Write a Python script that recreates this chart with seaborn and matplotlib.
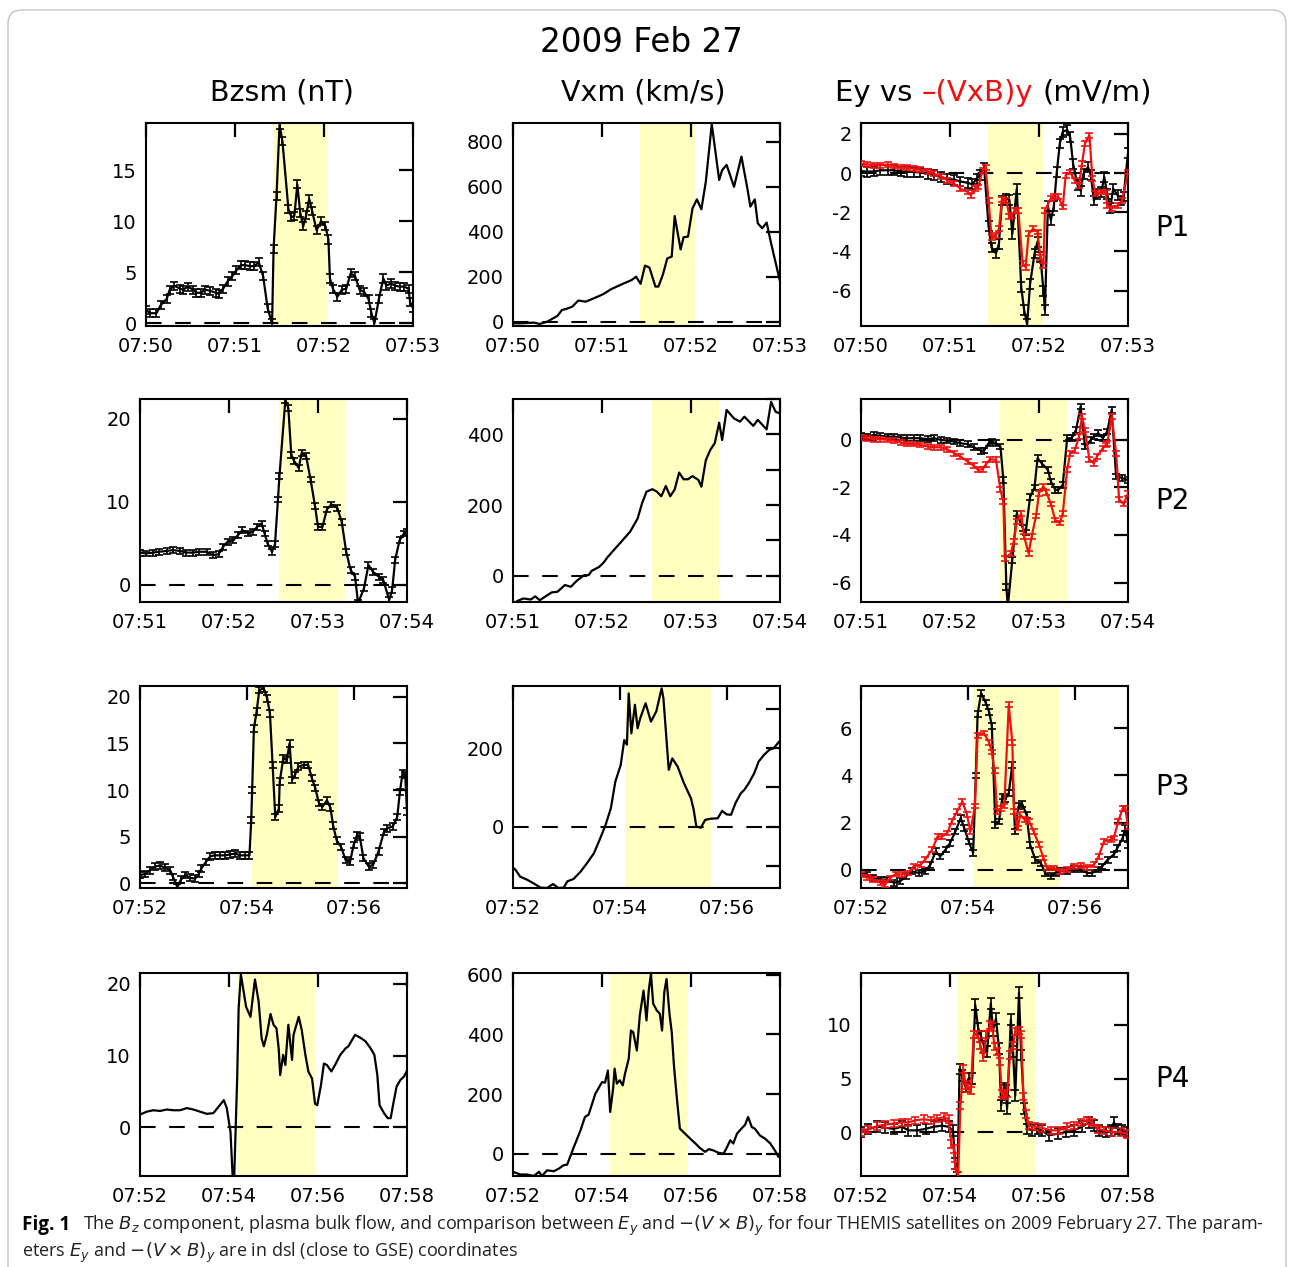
import matplotlib
matplotlib.use("Agg")
import matplotlib.pyplot as plt
import seaborn as sns
from matplotlib.ticker import FixedLocator, MultipleLocator, FuncFormatter
from matplotlib.patches import FancyBboxPatch
from matplotlib.transforms import IdentityTransform

# ---------------- data (time in seconds after panel start, values) ----------------
# P1 (start 07:50)
P1_BZ_T = [0,3,7,10,14,16,19,23,25,28,32,34,37,40,43,47,49,52,55,58,61,64,67,70,73,76,79,82,85,86,
           88,90,92,96,98,100,102,104,106,108,110,112,115,118,121,123,124,126,129,132,135,138,141,144,147,150,152,154,157,160,
           162,165,168,171,174,177,178,180]
P1_BZ = [1.3,1.0,1.0,1.8,2.4,3.3,3.7,3.4,3.3,3.6,3.3,3.0,3.0,3.3,3.2,3.0,2.9,3.4,4.1,4.6,5.2,5.7,5.7,5.6,5.6,6.0,4.6,1.5,0.0,7.3,
         12.5,19.4,17.8,11.2,10.4,10.5,13.6,10.8,9.5,10.6,12.2,11.0,9.1,10.0,9.5,8.2,4.4,3.4,2.6,3.3,3.4,4.9,4.6,3.3,3.1,2.4,1.0,0.0,2.4,4.4,
         3.7,3.9,3.7,3.6,3.6,3.4,2.1,1.5]
P1_VX_T = [0,5,14,18,23,27,30,33,36,40,44,49,52,57,61,66,70,75,80,83,86,89,92,96,98,101,104,107,109,113,
           115,118,121,124,127,130,134,139,141,144,149,154,158,160,163,165,168,171,174,180]
P1_VX = [-6,-6,-3,-9,1,16,27,53,58,68,95,90,98,112,124,145,157,172,186,201,169,250,241,157,157,209,282,290,470,322,
         376,379,504,544,500,623,878,630,674,697,600,734,593,512,544,438,416,441,349,180]
P1_EY_T = [0,4,9,13,18,22,27,31,36,40,45,49,54,58,63,67,72,75,78,80,83,86,88,91,93,95,98,100,102,105,
           108,110,112,114,117,119,121,123,124,126,128,130,132,134,136,139,141,143,146,148,150,153,155,157,159,162,164,166,168,170,
           173,175,177,180]
P1_EY = [0.1,0.07,0.08,0.14,0.14,0.14,0.08,0.07,0.05,0.03,-0.03,-0.12,-0.2,-0.29,-0.34,-0.43,-0.5,-0.58,-0.29,-0.12,
         0.27,-2.7,-3.8,-4.1,-3.6,-1.4,-1.3,-1.36,-3.1,-0.8,-5.8,-7.0,-7.7,-5.65,-4.1,-3.5,-4.3,-6.0,-7.0,-1.7,
         -2.4,-1.7,0.05,1.5,2.1,2.2,1.84,0.48,-0.63,-0.9,-0.03,0.3,-0.12,-1.4,-1.06,-0.97,-0.2,-1.06,-1.8,-0.8,
         -1.14,-1.4,-1.2,1.0]
P1_VB_T = [0,4,9,13,18,22,27,31,36,40,45,49,54,58,63,67,72,74,77,79,82,84,86,88,91,93,95,98,100,102,
           104,106,109,111,113,116,119,121,123,124,128,130,133,136,138,141,144,147,149,151,154,156,158,162,165,166,169,173,176,180]
P1_VB = [0.48,0.44,0.4,0.4,0.43,0.36,0.3,0.27,0.22,0.17,0.09,-0.03,-0.17,-0.37,-0.55,-0.8,-0.97,-1.14,-0.8,-0.72,
         0.14,0.27,-1.4,-3.27,-3.19,-2.84,-1.36,-1.4,-2.2,-2.16,-1.9,-1.9,-4.6,-4.8,-3.1,-2.84,-3.0,-4.3,-4.7,-1.9,
         -1.3,-1.2,-1.2,-1.74,-0.12,0.05,-0.37,-0.63,0.48,1.5,1.93,-0.29,-1.06,-0.97,-0.97,-1.65,-1.8,-1.65,-1.4,0.05]

# P2 (start 07:51)
P2_BZ_T = [0,4,9,13,18,22,27,31,36,40,45,49,53,56,59,63,66,69,73,76,79,82,84,86,89,91,93,94,98,100,
           102,104,107,109,112,115,118,120,123,126,129,133,136,139,142,145,147,151,154,157,161,164,168,170,172,175,178,180]
P2_BZ = [3.9,3.8,3.9,4.0,4.1,4.2,4.1,3.9,3.9,4.0,4.0,3.6,3.7,4.6,5.2,5.4,6.0,6.6,6.2,6.4,7.0,7.4,6.2,5.0,4.0,4.9,10.3,13.1,22.3,21.3,
         15.7,14.9,14.1,15.9,15.5,12.7,9.5,7.0,7.0,9.1,9.7,9.3,7.6,4.0,1.8,1.0,-2.2,-0.4,2.4,1.6,1.0,0.6,-1.8,-0.6,3.0,5.4,6.2,6.4]
P2_VX_T = [0,3,7,12,15,18,22,26,30,35,39,43,48,51,53,58,61,64,68,71,75,79,84,87,90,94,97,100,103,106,
           109,112,115,118,121,125,127,130,133,136,139,141,144,149,153,156,162,165,171,174,177,180]
P2_VX = [-80,-71,-64,-67,-58,-69,-58,-47,-45,-26,-31,-14,2,2,14,25,37,54,73,87,106,125,162,205,238,245,238,225,254,225,
         244,292,273,273,282,271,252,327,356,375,433,384,469,445,436,450,424,441,414,492,464,459]
P2_EY_T = [0,4,9,13,18,22,27,31,36,40,45,49,54,58,63,67,72,76,81,83,86,88,91,94,96,98,99,102,105,109,
           111,114,117,119,122,126,128,131,133,136,139,142,145,148,151,155,157,160,163,166,169,172,176,180]
P2_EY = [0.17,0.14,0.21,0.17,0.14,0.14,0.1,0.07,0.07,0.07,0.03,0.07,0.0,-0.03,-0.07,-0.14,-0.18,-0.31,-0.46,-0.45,
         -0.14,-0.07,-0.14,-0.28,-1.7,-6.2,-7.0,-5.05,-3.1,-3.7,-3.9,-2.4,-2.0,-0.77,-1.0,-1.26,-1.75,-2.1,-2.1,-1.9,
         0.07,0.07,0.42,1.4,-0.28,0.0,0.14,0.28,0.07,0.35,1.26,-1.54,-1.6,-1.7]
P2_VB_T = [0,4,9,13,18,22,27,31,36,40,45,49,54,58,63,67,72,76,79,82,84,87,91,94,96,97,101,103,105,108,
           110,113,115,118,120,123,125,128,131,134,136,139,141,144,147,149,151,154,157,159,163,165,166,169,172,174,177,180]
P2_VB = [0.11,0.07,0.03,0.03,0.0,-0.03,-0.11,-0.17,-0.17,-0.21,-0.28,-0.31,-0.31,-0.39,-0.56,-0.7,-0.91,-1.09,-1.26,-1.23,
         -1.05,-0.81,-0.84,-2.1,-2.6,-5.0,-4.77,-4.28,-3.44,-3.1,-4.07,-4.77,-4.07,-3.2,-2.24,-1.96,-2.2,-2.7,-3.37,-3.5,
         -3.1,-1.26,-0.56,-0.45,0.14,0.98,0.42,-0.84,-0.98,-0.7,-0.35,-0.21,-0.14,0.98,-0.56,-2.5,-2.7,-2.24]

# P3 (start 07:52)
P3_BZ_T = [0,6,11,17,22,28,34,37,42,46,51,56,62,66,69,74,79,84,90,96,101,107,112,118,123,125,126,128,131,134,
           139,143,146,149,152,156,157,161,165,168,171,174,178,184,189,193,197,201,205,210,214,217,221,226,231,236,240,244,247,251,
           257,262,268,274,278,284,289,292,295,298,300]
P3_BZ = [0.9,1.0,1.4,1.8,1.9,1.7,1.4,0.7,-0.4,0.4,0.9,0.6,0.5,1.0,1.6,2.3,2.9,3.0,3.0,3.0,3.1,3.2,3.0,3.0,3.0,6.8,10.0,16.6,18.4,20.7,
         20.9,19.8,18.2,12.7,7.1,8.0,10.9,13.4,13.2,15.0,11.1,11.6,12.5,12.7,12.7,11.3,10.2,8.6,8.2,8.9,8.1,6.2,4.6,3.9,2.5,2.3,4.1,5.2,5.0,2.7,
         1.8,2.0,3.4,5.5,5.9,6.1,7.1,9.8,11.8,11.6,7.7]
P3_VX_T = [0,3,8,16,23,31,38,45,51,57,61,68,76,83,91,98,104,110,115,121,125,128,130,133,137,140,143,149,155,161,
           167,169,175,179,185,192,200,203,206,211,216,222,230,235,240,245,250,256,260,265,271,276,282,288,293,299]
P3_VX = [-105,-111,-128,-136,-145,-156,-157,-147,-157,-156,-140,-134,-115,-94,-68,-30,4,47,115,157,221,209,340,238,311,251,277,315,268,294,
         353,328,145,174,153,111,72,43,0,-3,17,20,21,40,31,30,60,85,94,111,136,166,183,196,200,217]
P3_EY_T = [0,7,14,22,29,37,44,51,57,65,72,78,84,89,95,100,106,112,116,121,126,129,131,135,140,144,147,151,155,159,
           162,166,170,173,177,181,186,190,196,202,207,213,219,224,232,239,247,254,260,266,271,277,284,288,294,297,300]
P3_EY = [-0.14,-0.21,-0.35,-0.42,-0.42,-0.56,-0.49,-0.28,-0.07,-0.14,-0.07,0.21,0.78,0.56,0.85,1.13,1.62,2.19,1.77,1.2,
         0.71,4.0,6.6,7.5,7.1,6.7,6.1,1.9,2.05,3.1,3.0,3.25,4.45,1.62,2.7,2.8,2.33,1.06,0.42,0.28,
         -0.14,-0.28,-0.14,-0.07,-0.07,0.04,0.0,-0.14,-0.14,0.0,0.14,0.42,0.64,0.92,1.34,1.77,1.06]
P3_VB_T = [0,7,14,22,27,33,39,46,53,59,67,72,80,86,91,97,102,108,114,119,123,128,131,138,144,147,150,153,157,161,
           166,170,172,176,179,184,189,194,200,205,209,217,224,232,239,247,254,262,267,273,281,284,289,294,297,300]
P3_VB = [-0.21,-0.32,-0.42,-0.56,-0.64,-0.35,-0.18,-0.21,-0.14,0.14,0.21,0.42,0.85,1.41,1.41,1.55,2.05,2.47,2.9,2.33,
         1.62,2.7,5.7,5.8,5.4,5.0,4.2,2.47,2.6,2.7,7.0,5.4,2.47,1.77,2.33,2.12,2.05,1.62,1.06,0.5,
         0.07,0.07,-0.07,0.0,0.14,0.18,0.1,0.21,0.56,1.2,1.27,1.34,2.05,2.6,2.6,1.84]

# P4 (start 07:52)
P4_BZ_T = [0,9,18,27,36,45,54,63,72,81,90,99,106,113,117,122,125,127,131,133,136,139,143,149,152,155,160,164,167,171,
           176,180,184,187,189,193,196,200,205,207,214,218,223,227,232,236,239,244,248,252,258,263,270,277,281,286,290,297,304,311,
           316,320,323,329,334,338,342,346,351,356,360]
P4_BZ = [1.8,2.2,2.4,2.3,2.5,2.4,2.4,2.7,2.5,2.2,1.9,2.0,2.9,3.8,2.7,-0.6,-7.0,-7.0,6.8,16.6,21.3,19.4,16.8,15.4,18.0,20.6,17.5,12.4,11.3,12.9,
         15.8,14.3,13.8,11.0,7.3,10.1,8.7,14.3,9.4,12.9,15.4,13.6,10.1,7.8,6.8,3.3,3.1,5.9,8.9,8.7,7.8,8.7,10.1,11.0,11.3,12.2,12.9,12.5,12.0,11.0,
         10.1,7.3,3.1,2.0,1.3,1.3,3.6,5.7,6.6,7.1,7.9]
P4_VX_T = [0,10,19,28,35,39,46,55,62,68,73,77,82,91,97,102,106,111,115,120,124,128,131,135,137,140,144,148,151,156,
           159,162,167,171,176,180,183,186,189,194,198,201,204,207,211,214,217,221,225,232,239,246,252,259,264,270,277,284,288,293,
           297,302,308,313,317,322,326,333,340,347,353,358]
P4_VX = [-61,-70,-70,-75,-61,-75,-56,-59,-50,-39,-37,-11,22,78,123,131,162,201,218,240,238,279,140,218,285,235,246,229,268,318,
         413,408,346,464,547,447,547,603,503,480,469,413,542,586,469,408,296,184,84,67,50,34,19,6,15,11,3,0,19,45,
         34,67,84,97,123,89,84,61,50,34,11,-11]
P4_EY_T = [0,10,22,33,44,55,64,76,87,98,109,118,124,127,130,133,136,141,145,150,154,158,162,166,170,175,178,182,186,189,
           193,195,197,202,205,208,213,216,220,224,231,238,244,253,265,276,287,298,307,314,321,330,337,341,346,352,359]
P4_EY = [0.0,0.3,0.5,0.4,0.3,0.5,0.16,0.16,0.3,0.5,0.6,0.5,0.16,-2.9,-4.2,5.9,5.3,4.2,5.0,5.0,11.9,9.7,8.9,8.0,7.5,12.0,9.5,10.6,7.8,2.5,
         4.1,3.9,2.2,10.5,7.5,3.4,13.0,7.2,2.2,0.3,0.16,0.3,0.16,-0.3,-0.16,0.0,0.16,0.5,0.9,0.6,0.16,0.0,0.16,0.9,0.3,0.2,0.0]
P4_VB_T = [0,10,22,33,44,55,64,73,85,94,103,112,118,122,125,127,131,134,138,141,144,148,152,157,161,165,169,174,177,180,
           184,187,190,193,197,201,205,208,213,216,219,223,226,235,244,256,267,278,287,296,305,312,319,328,339,350,359]
P4_VB = [-0.06,0.25,0.56,0.7,0.8,0.9,0.9,1.1,1.2,1.1,1.25,1.4,1.2,-1.1,-1.6,-3.1,-4.1,2.5,5.9,4.4,4.1,3.9,9.1,9.1,8.1,7.0,9.1,10.0,9.8,8.0,
         7.5,6.6,3.6,3.4,3.6,7.2,8.1,9.4,9.5,9.1,3.3,1.7,0.6,0.5,0.4,0.16,0.16,0.5,0.6,0.9,1.1,0.9,0.3,0.16,0.0,0.0,-0.16]

# shaded intervals (minutes after 07:00)
SHADE = [(51.425, 52.04), (52.56, 53.32), (54.10, 55.70), (54.17, 55.93)]
ROW_START = [50, 51, 52, 52]
ROW_SPAN = [3, 3, 5, 6]
ROW_XSTEP = [1, 1, 2, 2]
PROBES = ["P1", "P2", "P3", "P4"]
COL_TITLES = ["Bzsm (nT)", "Vxm (km/s)"]
MAIN_TITLE = "2009 Feb 27"

# ---------------- style / layout ----------------
W, H = 1290, 1267
sns.set_theme(style="white")
plt.rcParams["font.family"] = ["DejaVu Sans"]
plt.rcParams["mathtext.fontset"] = "dejavusans"

fig = plt.figure(figsize=(W / 100, H / 100), dpi=100)

ROW_Y = [(123, 326), (399, 602), (686, 888), (973, 1176)]
COL_X = [[(146, 413), (513, 780), (861, 1128)],
         [(140, 407), (513, 780), (861, 1128)],
         [(140, 407), (513, 780), (861, 1128)],
         [(140, 407), (513, 780), (861, 1128)]]
YLIMS = [[(-0.25, 19.6), (-18, 883), (-7.8, 2.55)],
         [(-2.05, 22.4), (-74, 500), (-6.82, 1.72)],
         [(-0.5, 21.15), (-157, 359), (-0.78, 7.8)],
         [(-6.75, 21.5), (-75, 606), (-4.1, 14.85)]]
YTICKS = [[[0, 5, 10, 15], [0, 200, 400, 600, 800], [-6, -4, -2, 0, 2]],
          [[0, 10, 20], [0, 200, 400], [-6, -4, -2, 0]],
          [[0, 5, 10, 15, 20], [0, 200], [0, 2, 4, 6]],
          [[0, 10, 20], [0, 200, 400, 600], [0, 5, 10]]]
YMINOR = [[None, None, None], [None, 100, None], [None, 100, None], [None, None, None]]
ERR = {"bz": [0.4, 0.35, 0.35, None], "ey": [0.25, 0.12, 0.12, 0.5], "vb": [0.12, 0.1, 0.1, 0.35]}
YELLOW = "#FFFFC2"
RED = "#F01010"

DATA = [
    dict(bz=(P1_BZ_T, P1_BZ), vx=(P1_VX_T, P1_VX), ey=(P1_EY_T, P1_EY), vb=(P1_VB_T, P1_VB)),
    dict(bz=(P2_BZ_T, P2_BZ), vx=(P2_VX_T, P2_VX), ey=(P2_EY_T, P2_EY), vb=(P2_VB_T, P2_VB)),
    dict(bz=(P3_BZ_T, P3_BZ), vx=(P3_VX_T, P3_VX), ey=(P3_EY_T, P3_EY), vb=(P3_VB_T, P3_VB)),
    dict(bz=(P4_BZ_T, P4_BZ), vx=(P4_VX_T, P4_VX), ey=(P4_EY_T, P4_EY), vb=(P4_VB_T, P4_VB)),
]


def add_ax(xr, yr):
    x0, x1 = xr
    y0, y1 = yr
    return fig.add_axes([x0 / W, 1 - y1 / H, (x1 - x0) / W, (y1 - y0) / H])


def style_ax(ax, start, span, xstep, ylim, yticks, yminor):
    ax.set_xlim(start, start + span)
    ax.set_ylim(*ylim)
    ax.xaxis.set_major_locator(FixedLocator(list(range(start, start + span + 1, xstep))))
    ax.xaxis.set_major_formatter(FuncFormatter(lambda v, p: f"07:{int(round(v)):02d}"))
    ax.yaxis.set_major_locator(FixedLocator(yticks))
    ax.yaxis.set_major_formatter(FuncFormatter(lambda v, p: f"{v:g}"))
    if yminor:
        ax.yaxis.set_minor_locator(MultipleLocator(yminor))
    ax.tick_params(which="both", direction="in", length=10, width=1.6, top=True, right=True,
                   labelsize=14, colors="black")
    ax.tick_params(axis="x", pad=8)
    ax.tick_params(axis="y", pad=6.5)
    for s in ax.spines.values():
        s.set_linewidth(1.5)
        s.set_color("black")
        s.set_visible(True)
    ax.set_xlabel("")
    ax.set_ylabel("")
    ax.set_facecolor("white")


def draw(ax, start, tv, color, err=None):
    t, v = tv
    x = [start + s / 60.0 for s in t]
    sns.lineplot(x=x, y=v, ax=ax, color=color, lw=1.6, estimator=None, sort=False, zorder=3)
    if err:
        ax.errorbar(x, v, yerr=err, fmt="none", ecolor=color, elinewidth=1.2,
                    capsize=3, capthick=1.2, zorder=3)


for r in range(4):
    start, span, xstep = ROW_START[r], ROW_SPAN[r], ROW_XSTEP[r]
    for c in range(3):
        ax = add_ax(COL_X[r][c], ROW_Y[r])
        ax.axvspan(*SHADE[r], color=YELLOW, lw=0, zorder=0)
        ax.axhline(0, color="black", lw=1.5, dashes=(7.5, 6.5), zorder=1)
        d = DATA[r]
        if c == 0:
            draw(ax, start, d["bz"], "black", ERR["bz"][r])
        elif c == 1:
            draw(ax, start, d["vx"], "black")
        else:
            draw(ax, start, d["ey"], "black", ERR["ey"][r])
            draw(ax, start, d["vb"], RED, ERR["vb"][r])
        style_ax(ax, start, span, xstep, YLIMS[r][c], YTICKS[r][c], YMINOR[r][c])

# ---------------- texts ----------------
renderer = fig.canvas.get_renderer()


def text_width(s, **kw):
    t = fig.text(0, 0, s, **kw)
    w = t.get_window_extent(renderer).width
    t.remove()
    return w


def pieces(x_px, base_px, items, size, family, gap=None):
    if gap is None:
        gap = text_width("n n", fontsize=size, family=family) - text_width("nn", fontsize=size, family=family)
    x = x_px
    for txt, color, weight in items:
        t = fig.text(x / W, 1 - base_px / H, txt, color=color, fontsize=size, fontweight=weight,
                     family=family, ha="left", va="baseline")
        x += t.get_window_extent(renderer).width + gap


fig.text(641 / W, 1 - 52 / H, MAIN_TITLE, fontsize=23.5, ha="center", va="baseline", color="black")
fig.text(282 / W, 1 - 101 / H, COL_TITLES[0], fontsize=20.5, ha="center", va="baseline", color="black")
fig.text(643 / W, 1 - 101 / H, COL_TITLES[1], fontsize=20.5, ha="center", va="baseline", color="black")
pieces(835, 101, [("Ey vs", "black", "normal"), ("\u2013(VxB)y", RED, "normal"), ("(mV/m)", "black", "normal")],
       21, ["DejaVu Sans"])

for lab, yb in zip(PROBES, [236, 509, 795, 1087]):
    fig.text(1172 / W, 1 - yb / H, lab, fontsize=20, ha="center", va="baseline", color="black")

# caption
CAP_FAM = ["Open Sans", "DejaVu Sans"]
cap1 = ("The $B_z$ component, plasma bulk flow, and comparison between $E_y$ and $-(V\\times B)_y$ "
        "for four THEMIS satellites on 2009 February 27. The param-")
cap2 = "eters $E_y$ and $-(V\\times B)_y$ are in dsl (close to GSE) coordinates"
w12 = text_width(cap1, fontsize=12, family=CAP_FAM)
cap_size = 12 * (1260 - 83) / w12
fig.text(22 / W, 1 - 1230 / H, "Fig. 1", fontsize=cap_size * 1.05, fontweight="bold", family=CAP_FAM,
         ha="left", va="baseline", color="black")
fig.text(83 / W, 1 - 1230 / H, cap1, fontsize=cap_size, family=CAP_FAM, ha="left", va="baseline", color="#222222")
fig.text(22 / W, 1 - 1257 / H, cap2, fontsize=cap_size, family=CAP_FAM, ha="left", va="baseline", color="#222222")

# frame
frame = FancyBboxPatch((8, -40), 1278, H - 10 + 40, boxstyle="round,pad=0,rounding_size=14",
                       transform=IdentityTransform(), fill=False, ec="#c4c4c4", lw=1.0)
fig.patches.append(frame)

fig.savefig("out.png", dpi=100, facecolor="white")
